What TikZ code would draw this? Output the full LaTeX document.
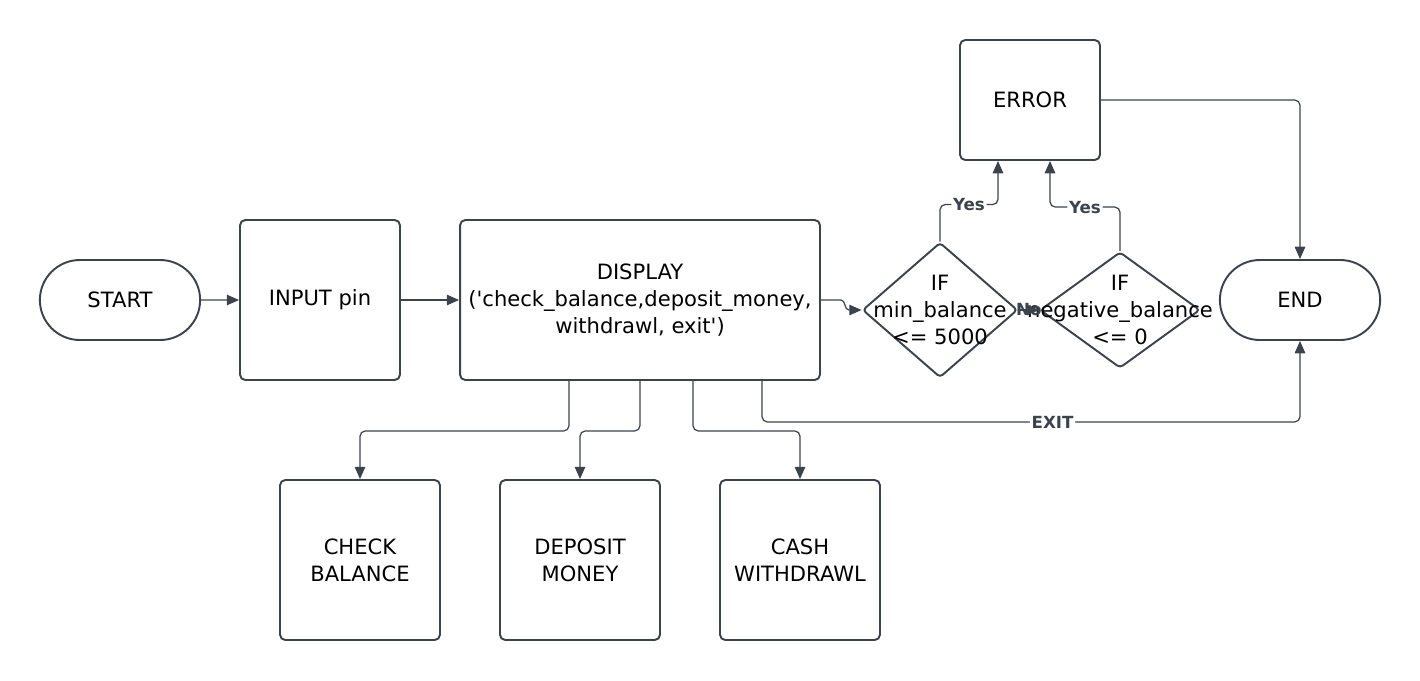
\documentclass[tikz,border=0pt]{standalone}
\usepackage{fontspec}
\setmainfont{DejaVu Sans}
\usetikzlibrary{shapes.geometric,shapes.misc,arrows.meta,calc}
\definecolor{linegray}{HTML}{3D434D}

\begin{document}
\begin{tikzpicture}[
    x=0.02cm, y=-0.02cm,
    font=\fontsize{12}{15.5}\selectfont,
    terminal/.style={rounded rectangle, draw=linegray, line width=1.1pt, minimum width=3.44cm, minimum height=1.6cm},
    process/.style={rectangle, rounded corners=3pt, draw=linegray, line width=1.1pt, minimum width=3.2cm, minimum height=3.2cm, align=center},
    decision/.style={diamond, rounded corners=2pt, draw=linegray, line width=1.1pt, inner sep=0pt},
    arrow/.style={-{Triangle[length=7pt,width=6pt]}, draw=linegray, line width=0.7pt, rounded corners=3pt},
    tag/.style={fill=white, inner sep=1pt, font=\fontsize{9.5}{11}\selectfont\bfseries, text=linegray}
]
\useasboundingbox (0,0) rectangle (1420,680);

% Terminals
\node[terminal] (start) at (120,300) {START};
\node[terminal] (end) at (1300,300) {END};

% Main row
\node[process] (input) at (320,300) {INPUT pin};
\node[process, minimum width=7.2cm] (disp) at (640,300) {DISPLAY\\(\textquotesingle check\_balance,deposit\_money,\\withdrawl, exit\textquotesingle)};

% Checks
\node[decision, minimum width=3.1cm, minimum height=2.7cm, label={[align=center]center:IF\\min\_balance\\<= 5000}] (d1) at (940,310) {};
\node[decision, minimum width=3.2cm, minimum height=2.32cm, label={[align=center]center:IF\\negative\_balance\\<= 0}] (d2) at (1120,310) {};
\node[process, minimum width=2.8cm, minimum height=2.4cm] (err) at (1030,100) {ERROR};

% Menu options
\node[process] (chk) at (360,560) {CHECK\\BALANCE};
\node[process] (dep) at (580,560) {DEPOSIT\\MONEY};
\node[process] (cash) at (800,560) {CASH\\WITHDRAWL};

% Main flow
\draw[arrow] (start) -- (input);
\draw[arrow] (input) -- (disp);
\draw[arrow, sharp corners] (disp.east) -- ++(20,0) to[out=0,in=180] ++(8,10) -- (d1.west);

% Checks to error and end
\draw[arrow] (d1.north) -- ++(0,-37) -| node[tag,pos=0.25]{Yes} ($(err.south)+(-32,0)$);
\draw[arrow] (d2.north) -- ++(0,-44) -| node[tag,pos=0.25]{Yes} ($(err.south)+(20,0)$);
\draw[arrow] (d1.east) -- node[tag,fill=none]{No} (d2.west);
\draw[arrow] (err.east) -| (end.north);

% Menu branches
\draw[arrow] ($(disp.south)+(-71,0)$) -- ++(0,50) -| (chk.north);
\draw[arrow] (disp.south) -- ++(0,50) -| (dep.north);
\draw[arrow] ($(disp.south)+(53,0)$) -- ++(0,50) -| (cash.north);
\draw[arrow] ($(disp.south)+(122,0)$) -- ++(0,41) -| node[tag,pos=0.27]{EXIT} (end.south);

\end{tikzpicture}
\end{document}
